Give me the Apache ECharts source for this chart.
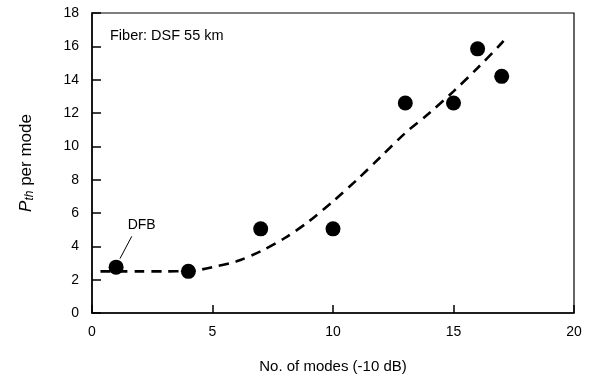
<!DOCTYPE html>
<html><head><meta charset="utf-8">
<script src="https://cdn.jsdelivr.net/npm/echarts@6/dist/echarts.min.js"></script>
<style>html,body{margin:0;padding:0;background:#fff}#c{width:590px;height:383px}</style>
</head><body><div id="c"></div>
<script>
const modes = [1, 4, 7, 10, 13, 15, 16, 17];
const pth = [2.75, 2.5, 5.05, 5.05, 12.6, 12.6, 15.85, 14.2];
const fitX = [0.35, 1, 2, 3, 4, 4.5, 5, 6, 7, 8, 9, 10, 11, 12, 13, 14, 15, 16, 17, 17.25];
const fitY = [2.5, 2.5, 2.5, 2.5, 2.52, 2.6, 2.75, 3.1, 3.7, 4.5, 5.5, 6.7, 8.0, 9.4, 10.8, 12.0, 13.3, 14.7, 16.2, 16.65];
const xTicks = [0, 5, 10, 15, 20];
const yTicks = [0, 2, 4, 6, 8, 10, 12, 14, 16, 18];
const dfbLeaderX = [1.16, 1.65];
const dfbLeaderY = [3.26, 4.6];
const dfbLabel = {x: 2.06, y: 5.3, text: 'DFB'};
const fiberNote = 'Fiber: DSF 55 km';

const chart = echarts.init(document.getElementById('c'), null, {renderer: 'canvas'});
const font = 'Liberation Sans, Arial, sans-serif';
chart.setOption({
  animation: false,
  textStyle: {fontFamily: font},
  grid: {left: 92, right: 16, top: 13, bottom: 70, show: true, borderColor: '#000', borderWidth: 1.2, backgroundColor: 'transparent'},
  xAxis: {
    type: 'value', min: 0, max: 20, interval: 5,
    name: 'No. of modes (-10 dB)', nameLocation: 'middle', nameGap: 46,
    nameTextStyle: {fontSize: 15, color: '#000', fontFamily: font},
    axisLine: {lineStyle: {color: '#000', width: 1.5}},
    axisTick: {inside: true, length: 8, lineStyle: {color: '#000', width: 1.5}},
    axisLabel: {fontSize: 14, color: '#000', margin: 12, fontFamily: font},
    splitLine: {show: false}
  },
  yAxis: {
    type: 'value', min: 0, max: 18, interval: 2,
    name: '{i|P}{s|th}{n| per mode}', nameLocation: 'middle', nameGap: 56, nameRotate: 90,
    nameTextStyle: {
      rich: {
        i: {fontSize: 17, fontStyle: 'italic', color: '#000', fontFamily: font},
        s: {fontSize: 12, fontStyle: 'italic', color: '#000', fontFamily: font, verticalAlign: 'bottom', padding: [7, 0, 0, 0]},
        n: {fontSize: 17, color: '#000', fontFamily: font}
      }
    },
    axisLine: {lineStyle: {color: '#000', width: 1.5}},
    axisTick: {inside: true, length: 9, lineStyle: {color: '#000', width: 1.5}},
    axisLabel: {fontSize: 14, color: '#000', margin: 13, fontFamily: font},
    splitLine: {show: false}
  },
  graphic: [{
    type: 'text', left: 110, top: 28,
    style: {text: fiberNote, fontSize: 14.5, fill: '#000', fontFamily: font}
  }],
  series: [
    {
      type: 'line', data: fitX.map((x, i) => [x, fitY[i]]), smooth: 0.3, symbol: 'none',
      lineStyle: {color: '#000', width: 2.6, type: [10, 7]}, z: 2
    },
    {
      type: 'scatter', data: modes.map((x, i) => [x, pth[i]]), symbol: 'circle', symbolSize: 15,
      itemStyle: {color: '#000', opacity: 1}, z: 3
    },
    {
      type: 'line', data: dfbLeaderX.map((x, i) => [x, dfbLeaderY[i]]), symbol: 'none',
      lineStyle: {color: '#000', width: 1}, z: 3
    },
    {
      type: 'scatter', data: [[dfbLabel.x, dfbLabel.y]], symbolSize: 1,
      itemStyle: {color: 'rgba(0,0,0,0)', opacity: 1},
      label: {show: true, position: 'inside', formatter: dfbLabel.text, fontSize: 14, color: '#000', fontFamily: font}
    }
  ]
});
</script></body></html>
